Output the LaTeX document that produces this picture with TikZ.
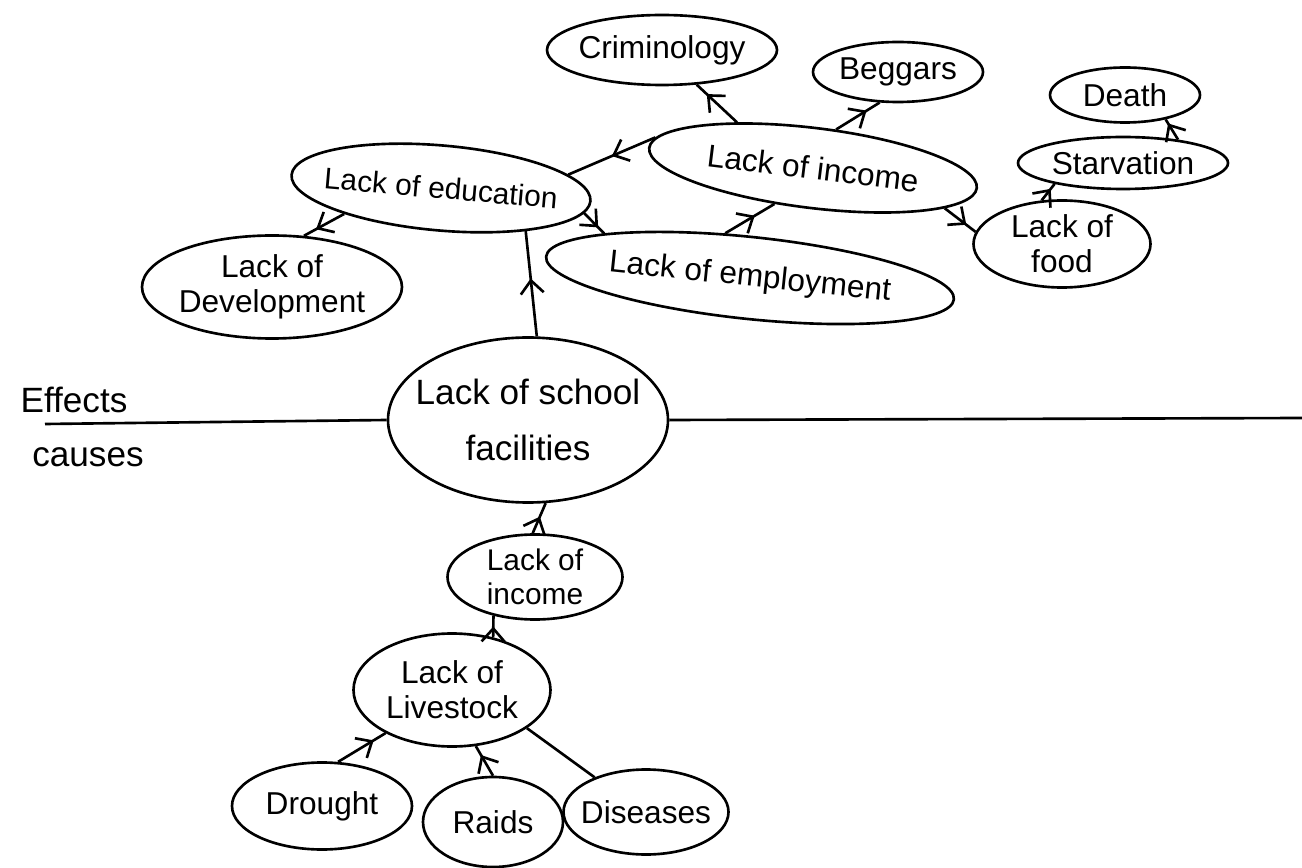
\documentclass[tikz,border=0pt]{standalone}
\usepackage{fontspec}
\setmainfont{Liberation Sans}
\usetikzlibrary{arrows.meta,shapes.geometric,decorations.markings}
\tikzset{
  oval/.style={ellipse,draw,line width=1.5pt,inner sep=-2cm,align=center,
    font=\fontsize{18}{20}\selectfont},
  cause/.style={line width=1.5pt,postaction={decorate},
    decoration={markings,mark=at position #1 with {\arrow{Straight Barb[length=2.6mm,width=4.6mm]}}}},
  cause/.default=0.7,
  tag/.style={font=\fontsize{20}{22}\selectfont},
}
\begin{document}
\begin{tikzpicture}
  \useasboundingbox (0,0) rectangle (26.04,-17.36);
  % effects
  \node[oval,minimum width=46mm,minimum height=14mm] (crim) at (13.24,-1.0) {Criminology};
  \node[oval,minimum width=34mm,minimum height=12mm] (beg) at (17.96,-1.44) {Beggars};
  \node[oval,minimum width=30mm,minimum height=11mm] (death) at (22.5,-1.9) {Death};
  \node[oval,minimum width=42mm,minimum height=10.4mm] (starv) at (22.46,-3.26) {Starvation};
  \node[oval,minimum width=66mm,minimum height=16mm,rotate=-7] (inc) at (16.26,-3.36) {Lack of income};
  \node[oval,minimum width=60mm,minimum height=17mm,rotate=-5,font=\fontsize{17}{20}\selectfont] (edu) at (8.82,-3.76) {Lack of education};
  \node[oval,minimum width=35.4mm,minimum height=17.4mm] (food) at (21.24,-4.88) {Lack of\\food};
  \node[oval,minimum width=52mm,minimum height=20.6mm] (dev) at (5.44,-5.74) {Lack of\\Development};
  \node[oval,minimum width=82mm,minimum height=16.4mm,rotate=-6] (emp) at (15.0,-5.56) {Lack of employment};
  % core problem
  \node[oval,minimum width=56mm,minimum height=33mm,font=\fontsize{20}{32}\selectfont] (school) at (10.56,-8.4) {Lack of school\\facilities};
  \coordinate (lft) at (0.9,-8.48);
  \coordinate (rgt) at (26.04,-8.36);
  \draw[line width=1.5pt] (lft) -- (school.west) (school.east) -- (rgt);
  \node[tag] (eff) at (1.48,-8.0) {Effects};
  \node[tag] (cau) at (1.76,-9.14) {causes};
  % causes
  \node[oval,minimum width=35mm,minimum height=17mm,font=\fontsize{17}{19}\selectfont] (inc2) at (10.7,-11.54) {Lack of\\income};
  \node[oval,minimum width=39.4mm,minimum height=22.6mm] (live) at (9.04,-13.8) {Lack of\\Livestock};
  \node[oval,minimum width=36mm,minimum height=17.4mm] (drought) at (6.44,-16.12) {Drought};
  \node[oval,minimum width=28mm,minimum height=18mm] (raids) at (9.86,-16.44) {Raids};
  \node[oval,minimum width=33mm,minimum height=17mm] (dis) at (12.92,-16.24) {Diseases};

  \draw[cause=0.75] (inc.156) -- (crim.-45);
  \draw[cause] (inc.66) -- (beg.-121);
  \draw[cause=0.5] (inc.176) -- (edu.11);
  \draw[cause] (edu.200) -- (dev.58);
  \draw[cause] (edu.-5) -- (emp.169);
  \draw[cause=0.6] (emp.125) -- (inc.230);
  \draw[cause] (inc.-10) -- (food.172);
  \draw[cause] (food.115) -- (starv.197);
  \draw[cause=0.8] (starv.23) -- (death.-31);
  \draw[cause=0.55] (school.84) -- (edu.-22);
  \draw[cause=0.55] (inc2.93) -- (school.-78);
  \draw[cause=0.5] (live.52) -- (inc2.223);
  \draw[cause=0.75] (drought.70) -- (live.213);
  \draw[cause] (raids.90) -- (live.-67);
  \draw[line width=1.5pt] (dis.146) -- (live.-27);
\end{tikzpicture}
\end{document}
